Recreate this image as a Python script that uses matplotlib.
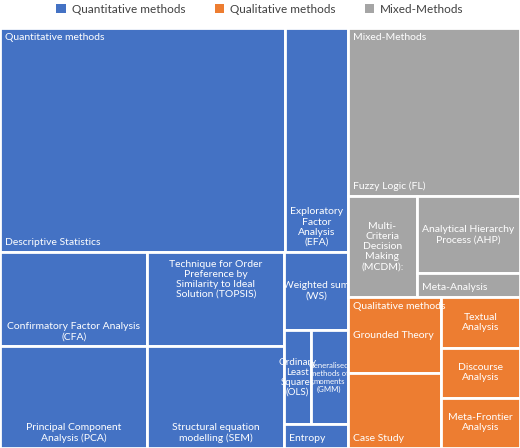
import matplotlib.pyplot as plt
from matplotlib.patches import Rectangle, Patch

plt.rcParams['font.family'] = ['Lato', 'DejaVu Sans']

groups = ["Quantitative methods", "Qualitative methods", "Mixed-Methods"]
colors = {"Quantitative methods": "#4472C4", "Qualitative methods": "#ED7D31",
          "Mixed-Methods": "#A5A5A5"}

# leaf: label, value, group, label placement
leaves = {
    "desc": ("Descriptive Statistics", 64, "Quantitative methods", "bl"),
    "efa": ("Exploratory\nFactor\nAnalysis\n(EFA)", 14, "Quantitative methods", "bc"),
    "cfa": ("Confirmatory Factor Analysis\n(CFA)", 14, "Quantitative methods", "bc"),
    "topsis": ("Technique for Order\nPreference by\nSimilarity to Ideal\nSolution (TOPSIS)", 13, "Quantitative methods", "tc"),
    "pca": ("Principal Component\nAnalysis (PCA)", 15, "Quantitative methods", "bc"),
    "sem": ("Structural equation\nmodelling (SEM)", 14, "Quantitative methods", "bc"),
    "ws": ("Weighted sum\n(WS)", 5, "Quantitative methods", "c"),
    "ols": ("Ordinary\nLeast\nSquares\n(OLS)", 2.5, "Quantitative methods", "c"),
    "gmm": ("Generalised\nmethods of\nmoments\n(GMM)", 3.5, "Quantitative methods", "c"),
    "ent": ("Entropy", 1.5, "Quantitative methods", "bl"),
    "fl": ("Fuzzy Logic (FL)", 29, "Mixed-Methods", "bl"),
    "mcdm": ("Multi-\nCriteria\nDecision\nMaking\n(MCDM):", 7, "Mixed-Methods", "c"),
    "ahp": ("Analytical Hierarchy\nProcess (AHP)", 8, "Mixed-Methods", "c"),
    "meta": ("Meta-Analysis", 2.5, "Mixed-Methods", "bl"),
    "gt": ("Grounded Theory", 7, "Qualitative methods", "cl"),
    "cs": ("Case Study", 7, "Qualitative methods", "bl"),
    "ta": ("Textual\nAnalysis", 4, "Qualitative methods", "c"),
    "da": ("Discourse\nAnalysis", 4, "Qualitative methods", "c"),
    "mf": ("Meta-Frontier\nAnalysis", 4, "Qualitative methods", "c"),
}

# nested slice layout: ('h'|'v', children)
tree = ('h', [
    ('v', [('h', ["desc", "efa"]),
           ('h', [('v', [('h', ["cfa", "topsis"]), ('h', ["pca", "sem"])]),
                  ('v', ["ws", ('h', ["ols", "gmm"]), "ent"])])]),
    ('v', [('v', ["fl", ('h', ["mcdm", ('v', ["ahp", "meta"])])]),
           ('h', [('v', ["gt", "cs"]), ('v', ["ta", "da", "mf"])])]),
])


def total(node):
    if isinstance(node, str):
        return leaves[node][1]
    return sum(total(c) for c in node[1])


rects = {}


def layout(node, x, y, w, h):
    if isinstance(node, str):
        rects[node] = (x, y, w, h)
        return
    d, kids = node
    s = total(node)
    for k in kids:
        f = total(k) / s
        if d == 'h':
            layout(k, x, y, w * f, h)
            x += w * f
        else:
            layout(k, x, y, w, h * f)
            y += h * f


W, H = 520, 420
layout(tree, 0, 0, W, H)

fig = plt.figure(figsize=(5.2, 4.48), dpi=100)
ax = fig.add_axes([0, 0, 1, 420 / 448])
ax.set_xlim(0, W)
ax.set_ylim(H, 0)
ax.axis('off')

sizes = {"gmm": 5.6, "ols": 7}
pad = 5
for key, (label, v, g, pos) in leaves.items():
    x, y, w, h = rects[key]
    ax.add_patch(Rectangle((x, y), w, h, facecolor=colors[g], edgecolor='white', lw=2))
    fs = sizes.get(key, 7.5)
    if pos == "bl":
        tx, ty, ha, va = x + pad, y + h - pad, 'left', 'bottom'
    elif pos == "bc":
        tx, ty, ha, va = x + w / 2, y + h - pad, 'center', 'bottom'
    elif pos == "tc":
        tx, ty, ha, va = x + w / 2, y + pad + 3, 'center', 'top'
    elif pos == "cl":
        tx, ty, ha, va = x + pad, y + h / 2, 'left', 'center'
    else:
        tx, ty, ha, va = x + w / 2, y + h / 2, 'center', 'center'
    ax.text(tx, ty, label, ha=ha, va=va, fontsize=fs, color='white',
            multialignment='center' if ha == 'center' else 'left', linespacing=1.15)

# group headers
heads = [("Quantitative methods", "desc"), ("Mixed-Methods", "fl"), ("Qualitative methods", "gt")]
for name, first in heads:
    x, y, w, h = rects[first]
    ax.text(x + pad, y + pad, name, ha='left', va='top', fontsize=7.5, color='white')

handles = [Patch(facecolor=colors[g], label=g) for g in groups]
fig.legend(handles=handles, loc='upper center', ncol=3, frameon=False, fontsize=8.5,
           bbox_to_anchor=(0.5, 1.015), handlelength=0.8, handleheight=0.8,
           columnspacing=2.5, handletextpad=0.5, labelcolor='#404040')

fig.savefig("out.png", dpi=100)
